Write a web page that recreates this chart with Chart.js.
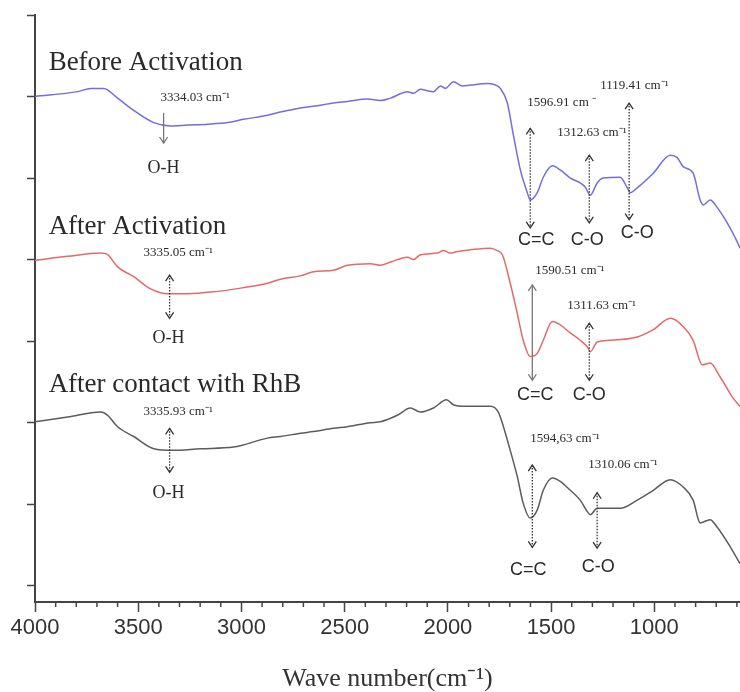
<!DOCTYPE html>
<html>
<head>
<meta charset="utf-8">
<script src="https://cdn.jsdelivr.net/npm/chart.js@4.4.0/dist/chart.umd.min.js"></script>
<style>
  html, body { margin: 0; padding: 0; background: #fff; }
  #wrap { width: 740px; height: 692px; }
</style>
</head>
<body>
<div id="wrap"><canvas id="ftir"></canvas></div>
<script>
// FTIR spectra. x = wave number (cm-1), y = offset transmittance (a.u.)
var beforeWn = [4000,3793,3730,3667,3600,3522,3425,3343,3261,3164,3067,2990,2874,2811,2714,2651,2554,2487,2390,2327,2278,2196,2167,2133,2099,2070,2036,2012,1973,1930,1891,1809,1780,1746,1712,1683,1649,1615,1601,1567,1538,1494,1456,1407,1359,1335,1310,1277,1248,1165,1131,1117,1083,1005,923,889,860,812,778,763,730,696,647,599,585];
var beforeT = [6.00,6.06,6.10,6.10,5.98,5.83,5.68,5.64,5.65,5.66,5.68,5.72,5.77,5.81,5.86,5.88,5.92,5.94,5.97,5.95,5.98,6.06,6.04,6.09,6.07,6.06,6.13,6.10,6.18,6.13,6.14,6.16,6.15,6.10,5.92,5.53,5.10,4.82,4.73,4.82,5.01,5.15,5.10,5.00,4.94,4.89,4.79,4.94,5.00,5.01,4.88,4.82,4.88,5.06,5.28,5.25,5.14,5.06,4.73,4.67,4.73,4.64,4.45,4.22,4.14];

var afterWn = [4000,3842,3682,3648,3600,3522,3440,3358,3261,3116,3004,2874,2811,2714,2651,2554,2487,2375,2327,2278,2196,2167,2133,2051,2022,1988,1954,1891,1794,1761,1736,1698,1664,1635,1601,1567,1538,1494,1456,1407,1359,1325,1310,1277,1214,1083,1005,923,860,812,768,730,681,618,585];
var afterT = [3.99,4.04,4.08,4.06,3.91,3.79,3.64,3.58,3.58,3.61,3.65,3.71,3.76,3.80,3.85,3.87,3.93,3.95,3.93,3.97,4.03,4.00,4.06,4.08,4.11,4.08,4.10,4.12,4.14,4.11,4.06,3.71,3.34,3.01,2.81,2.85,3.01,3.24,3.20,3.10,3.01,2.93,2.87,2.99,3.01,3.05,3.14,3.28,3.18,3.01,2.71,2.73,2.56,2.30,2.20];

var rhbWn = [4000,3842,3682,3648,3600,3522,3425,3329,3198,3038,2874,2811,2714,2651,2554,2487,2375,2327,2245,2182,2133,2070,2007,1973,1915,1794,1756,1732,1698,1664,1635,1601,1567,1538,1494,1456,1407,1359,1325,1310,1277,1165,1083,1005,923,860,812,778,730,696,633,585];
var rhbT = [2.01,2.07,2.13,2.09,1.95,1.83,1.68,1.66,1.68,1.70,1.81,1.83,1.87,1.89,1.93,1.95,2.00,2.01,2.09,2.18,2.13,2.18,2.28,2.22,2.20,2.20,2.13,1.96,1.66,1.34,1.01,0.83,0.93,1.17,1.32,1.28,1.17,1.05,0.91,0.87,0.95,0.95,1.05,1.17,1.30,1.21,1.05,0.77,0.81,0.72,0.48,0.27];

var seriesNames = ['Before Activation', 'After Activation', 'After contact with RhB'];
var xTickLabels = [4000, 3500, 3000, 2500, 2000, 1500, 1000];
var yTicks = [0, 1, 2, 3, 4, 5, 6, 7];

// text drawn on the plot, placed in data units
var nameSpots = [[3934, 6.41], [3934, 4.40], [3934, 2.46]];
var peakNotes = [
  ['3334.03 cm\u207B\u00B9', 3392, 5.99],
  ['3335.05 cm\u207B\u00B9', 3474, 4.08],
  ['3335.93 cm\u207B\u00B9', 3474, 2.13],
  ['1596.91 cm \u207B', 1615, 5.92],
  ['1312.63 cm\u207B\u00B9', 1470, 5.56],
  ['1119.41 cm\u207B\u00B9', 1262, 6.14],
  ['1590.51 cm\u207B\u00B9', 1577, 3.87],
  ['1311.63 cm\u207B\u00B9', 1422, 3.44],
  ['1594,63 cm\u207B\u00B9', 1601, 1.81],
  ['1310.06 cm\u207B\u00B9', 1320, 1.48]
];
var bondNotes = [
  ['O-H', 3377, 5.12, 'serif'],
  ['O-H', 3353, 3.04, 'serif'],
  ['O-H', 3353, 1.13, 'serif'],
  ['C=C', 1572, 4.24, 'sans'],
  ['C-O', 1325, 4.24, 'sans'],
  ['C-O', 1083, 4.33, 'sans'],
  ['C=C', 1577, 2.34, 'sans'],
  ['C-O', 1315, 2.34, 'sans'],
  ['C=C', 1611, 0.19, 'sans'],
  ['C-O', 1272, 0.23, 'sans']
];
// x, top, bottom, two heads, dotted
var arrows = [
  [3377, 5.80, 5.43, false, false],
  [3348, 3.81, 3.28, true, true],
  [3348, 1.93, 1.39, true, true],
  [1601, 5.61, 4.39, true, true],
  [1315, 5.28, 4.45, true, true],
  [1122, 5.92, 4.49, true, true],
  [1591, 3.69, 2.52, true, false],
  [1315, 3.22, 2.52, true, true],
  [1591, 1.48, 0.47, true, true],
  [1277, 1.14, 0.46, true, true]
];

function zip(xs, ys) {
  var out = [];
  for (var i = 0; i < Math.min(xs.length, ys.length); i++) out.push({ x: xs[i], y: ys[i] });
  return out;
}

function head(ctx, x, y, dir) {
  ctx.beginPath();
  ctx.moveTo(x - 4, y - dir * 6);
  ctx.lineTo(x, y);
  ctx.lineTo(x + 4, y - dir * 6);
  ctx.stroke();
}

var decor = {
  id: 'decor',
  afterDraw: function (chart) {
    var ctx = chart.ctx;
    var xs = chart.scales.x, ys = chart.scales.y;
    ctx.save();

    // minor ticks every 100 cm-1
    ctx.strokeStyle = '#444';
    ctx.lineWidth = 1.5;
    for (var w = 600; w < 4000; w += 100) {
      if (w % 500 === 0) continue;
      var px = xs.getPixelForValue(w);
      ctx.beginPath();
      ctx.moveTo(px, ys.bottom);
      ctx.lineTo(px, ys.bottom + 5);
      ctx.stroke();
    }

    // arrows
    arrows.forEach(function (a) {
      var x = xs.getPixelForValue(a[0]);
      var y1 = ys.getPixelForValue(a[1]);
      var y2 = ys.getPixelForValue(a[2]);
      ctx.strokeStyle = a[4] ? '#333' : '#777';
      ctx.lineWidth = 1.3;
      ctx.setLineDash(a[4] ? [1.5, 1.5] : []);
      ctx.beginPath();
      ctx.moveTo(x, y1);
      ctx.lineTo(x, y2);
      ctx.stroke();
      ctx.setLineDash([]);
      head(ctx, x, y2, 1);
      if (a[3]) head(ctx, x, y1, -1);
    });

    ctx.fillStyle = '#2a2a2a';
    ctx.textBaseline = 'middle';

    // series names
    ctx.textAlign = 'left';
    ctx.font = '27px "Liberation Serif", "Times New Roman", serif';
    seriesNames.forEach(function (n, i) {
      ctx.fillText(n, xs.getPixelForValue(nameSpots[i][0]), ys.getPixelForValue(nameSpots[i][1]));
    });

    // peak positions
    ctx.font = '13px "Liberation Serif", "Times New Roman", serif';
    peakNotes.forEach(function (p) {
      ctx.fillText(p[0], xs.getPixelForValue(p[1]), ys.getPixelForValue(p[2]));
    });

    // bond labels
    ctx.textAlign = 'center';
    bondNotes.forEach(function (b) {
      ctx.font = b[3] === 'serif' ? '18px "Liberation Serif", serif' : '18px "Liberation Sans", Arial, sans-serif';
      ctx.fillText(b[0], xs.getPixelForValue(b[1]), ys.getPixelForValue(b[2]));
    });

    ctx.restore();
  }
};

var lineStyle = { pointRadius: 0, borderWidth: 1.5, fill: false, cubicInterpolationMode: 'monotone' };

new Chart(document.getElementById('ftir'), {
  type: 'line',
  data: {
    datasets: [
      Object.assign({ label: seriesNames[0], data: zip(beforeWn, beforeT), borderColor: '#6f6fe0' }, lineStyle),
      Object.assign({ label: seriesNames[1], data: zip(afterWn, afterT), borderColor: '#e36a6a' }, lineStyle),
      Object.assign({ label: seriesNames[2], data: zip(rhbWn, rhbT), borderColor: '#5c5c5c' }, lineStyle)
    ]
  },
  options: {
    responsive: true,
    maintainAspectRatio: false,
    animation: false,
    layout: { padding: { top: 15, right: 0, left: 0, bottom: 0 } },
    plugins: { legend: { display: false }, tooltip: { enabled: false } },
    scales: {
      x: {
        type: 'linear',
        reverse: true,
        min: 585,
        max: 4000,
        afterBuildTicks: function (s) { s.ticks = xTickLabels.map(function (v) { return { value: v }; }); },
        afterFit: function (s) { s.height = 90; },
        grid: { drawOnChartArea: false, tickLength: 10, tickColor: '#444', tickWidth: 1.5 },
        border: { color: '#444', width: 2 },
        ticks: {
          color: '#333',
          padding: 3,
          maxRotation: 0,
          font: { family: '"Liberation Sans", Arial, sans-serif', size: 22 },
          callback: function (v) { return String(v); }
        },
        title: {
          display: true,
          text: 'Wave number(cm\u207B\u00B9)',
          color: '#333',
          font: { family: '"Liberation Serif", "Times New Roman", serif', size: 26, lineHeight: 1 },
          padding: { top: 0, bottom: 0 }
        }
      },
      y: {
        min: -0.2,
        max: 7,
        afterBuildTicks: function (s) { s.ticks = yTicks.map(function (v) { return { value: v }; }); },
        afterFit: function (s) { s.width = 35; },
        grid: { drawOnChartArea: false, tickLength: 8, tickColor: '#444', tickWidth: 1.5 },
        border: { color: '#444', width: 2 },
        ticks: { display: false }
      }
    }
  },
  plugins: [decor]
});
</script>
</body>
</html>
